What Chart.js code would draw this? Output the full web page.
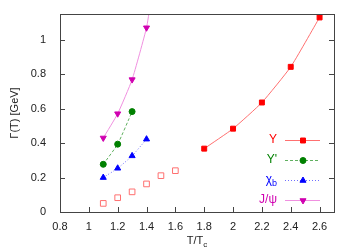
<!DOCTYPE html>
<html>
<head>
<meta charset="utf-8">
<script src="https://cdn.jsdelivr.net/npm/chart.js@4.4.1/dist/chart.umd.min.js"></script>
<style>
  html, body { margin: 0; padding: 0; background: #fff; }
  #wrap { width: 354px; height: 248px; }
</style>
</head>
<body>
<div id="wrap"><canvas id="gammaChart"></canvas></div>
<script>
// x: T/Tc, y: Gamma(T) in GeV
const upsT = [1.8, 2.0, 2.2, 2.4, 2.6];
const upsG = [0.368, 0.484, 0.636, 0.843, 1.13];
const openT = [1.1, 1.2, 1.3, 1.4, 1.5, 1.6];
const openG = [0.05, 0.083, 0.117, 0.163, 0.211, 0.24];
const ups2T = [1.1, 1.2, 1.3];
const ups2G = [0.277, 0.394, 0.583];
const chiT = [1.1, 1.2, 1.3, 1.4];
const chiG = [0.2, 0.254, 0.326, 0.423];
const psiT = [1.1, 1.2, 1.3, 1.4, 1.425];
const psiG = [0.43, 0.571, 0.769, 1.07, 1.2];
const xTicks = [0.8, 1.0, 1.2, 1.4, 1.6, 1.8, 2.0, 2.2, 2.4, 2.6];
const yTicks = [0, 0.2, 0.4, 0.6, 0.8, 1.0];

const FAM = '"Liberation Sans", Arial, sans-serif';
const FONT = '11px ' + FAM;

function pts(xs, ys) { return xs.map((x, i) => ({ x: x, y: ys[i] })); }
const fmt = v => parseFloat(v.toFixed(2)).toString();

// text with optional subscript part
function drawSub(ctx, main, sub, x, y, align, size) {
    const big = (size || 11) + 'px ' + FAM;
    const small = Math.round((size || 11) * 0.75) + 'px ' + FAM;
    ctx.font = big;
    const w1 = ctx.measureText(main).width;
    ctx.font = small;
    const w2 = sub ? ctx.measureText(sub).width : 0;
    let x0 = x;
    if (align === 'right') x0 = x - w1 - w2;
    if (align === 'center') x0 = x - (w1 + w2) / 2;
    ctx.textAlign = 'left';
    ctx.textBaseline = 'middle';
    ctx.font = big;
    ctx.fillText(main, x0, y);
    if (sub) {
        ctx.font = small;
        ctx.fillText(sub, x0 + w1, y + 4);
    }
}

const legendItems = [
    { ds: 0, main: 'Υ', sub: '' },
    { ds: 2, main: "Υ'", sub: '' },
    { ds: 3, main: 'χ', sub: 'b' },
    { ds: 4, main: 'J/ψ', sub: '' }
];

const framePlugin = {
    id: 'frame',
    afterDraw(chart) {
        const ctx = chart.ctx;
        const a = chart.chartArea;
        const xs = chart.scales.x, ys = chart.scales.y;
        ctx.save();
        ctx.strokeStyle = '#444';
        ctx.lineWidth = 1;
        ctx.strokeRect(a.left + 0.5, a.top + 0.5, a.right - a.left, a.bottom - a.top);
        ctx.beginPath();
        xTicks.forEach(v => {
            const px = Math.round(xs.getPixelForValue(v)) + 0.5;
            ctx.moveTo(px, a.bottom); ctx.lineTo(px, a.bottom - 5);
        });
        yTicks.forEach(v => {
            const py = Math.round(ys.getPixelForValue(v)) + 0.5;
            ctx.moveTo(a.left, py); ctx.lineTo(a.left + 5, py);
            ctx.moveTo(a.right, py); ctx.lineTo(a.right - 5, py);
        });
        ctx.stroke();

        // axis titles
        ctx.fillStyle = '#222';
        drawSub(ctx, 'T/T', 'c', (a.left + a.right) / 2, 241, 'center', 11);
        ctx.save();
        ctx.translate(15, (a.top + a.bottom) / 2);
        ctx.rotate(-Math.PI / 2);
        ctx.font = FONT;
        ctx.textAlign = 'center';
        ctx.textBaseline = 'middle';
        ctx.fillText('Γ(T) [GeV]', 0, 0);
        ctx.restore();

        // legend
        legendItems.forEach((it, i) => {
            const ds = chart.data.datasets[it.ds];
            const y = 140 + i * 20;
            ctx.fillStyle = ds.pointBackgroundColor;
            drawSub(ctx, it.main, it.sub, 277, y, 'right', 12);
            ctx.strokeStyle = ds.borderColor;
            ctx.lineWidth = 1;
            ctx.setLineDash(ds.borderDash || []);
            ctx.beginPath();
            ctx.moveTo(285, y + 0.5); ctx.lineTo(320, y + 0.5);
            ctx.stroke();
            ctx.setLineDash([]);
            ctx.fillStyle = ds.pointBackgroundColor;
            ctx.strokeStyle = ds.pointBorderColor;
            const r = Array.isArray(ds.pointRadius) ? ds.pointRadius[0] : ds.pointRadius;
            Chart.helpers.drawPoint(ctx, {
                pointStyle: ds.pointStyle, radius: r,
                rotation: ds.pointRotation || 0, borderWidth: 1
            }, 303, y + 0.5);
        });
        ctx.restore();
    }
};

const ctx = document.getElementById('gammaChart').getContext('2d');
new Chart(ctx, {
    type: 'scatter',
    data: {
        datasets: [
            {
                data: pts(upsT, upsG), showLine: true,
                borderColor: '#ff7070', borderWidth: 1, tension: 0.15,
                pointStyle: 'rect', pointRadius: 3.5,
                pointBackgroundColor: '#ff0000', pointBorderColor: '#ff0000'
            },
            {
                data: pts(openT, openG), showLine: false,
                pointStyle: 'rect', pointRadius: 4, pointBorderWidth: 1,
                pointBackgroundColor: 'rgba(0,0,0,0)', pointBorderColor: '#ff7070'
            },
            {
                data: pts(ups2T, ups2G), showLine: true,
                borderColor: '#60b060', borderWidth: 1, borderDash: [3, 2], tension: 0.15,
                pointStyle: 'circle', pointRadius: 3,
                pointBackgroundColor: '#008000', pointBorderColor: '#008000'
            },
            {
                data: pts(chiT, chiG), showLine: true,
                borderColor: '#7070ff', borderWidth: 1, borderDash: [1, 2], tension: 0.15,
                pointStyle: 'triangle', pointRadius: 3.5,
                pointBackgroundColor: '#0000ff', pointBorderColor: '#0000ff'
            },
            {
                data: pts(psiT, psiG), showLine: true,
                borderColor: '#f090e0', borderWidth: 1, tension: 0.15,
                pointStyle: 'triangle', pointRotation: 180,
                pointRadius: [3.5, 3.5, 3.5, 3.5, 0],
                pointBackgroundColor: '#d000b0', pointBorderColor: '#d000b0'
            }
        ]
    },
    options: {
        responsive: true,
        maintainAspectRatio: false,
        animation: false,
        layout: { padding: { top: 14, right: 20, left: 0, bottom: 0 } },
        plugins: { legend: { display: false }, tooltip: { enabled: false } },
        scales: {
            x: {
                type: 'linear', min: 0.8, max: 2.7,
                afterBuildTicks: s => { s.ticks = xTicks.map(v => ({ value: v })); },
                afterFit: s => { s.height = 36; },
                grid: { display: false }, border: { display: false },
                ticks: { color: '#222', font: { family: FAM, size: 11 }, padding: 0, maxRotation: 0, callback: fmt }
            },
            y: {
                type: 'linear', min: 0, max: 1.15,
                afterBuildTicks: s => { s.ticks = yTicks.map(v => ({ value: v })); },
                afterFit: s => { s.width = 60; },
                grid: { display: false }, border: { display: false },
                ticks: { color: '#222', font: { family: FAM, size: 11 }, padding: 6, callback: fmt }
            }
        }
    },
    plugins: [framePlugin]
});
</script>
</body>
</html>
